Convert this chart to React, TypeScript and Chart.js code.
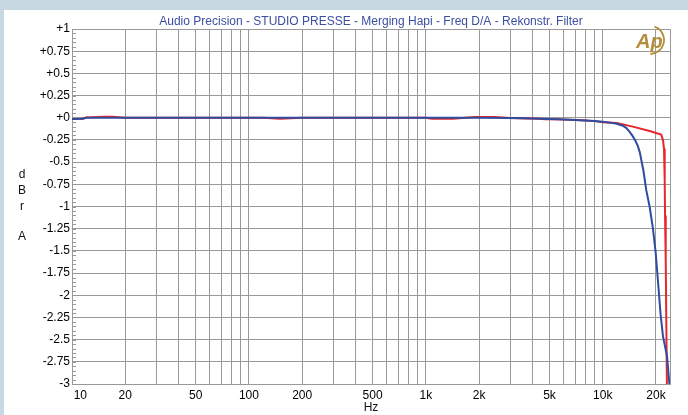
import React, { useEffect, useRef } from "react";
import { Chart, registerables } from "chart.js";

Chart.register(...registerables);

// Frequency response sweep, channel A (blue) and channel B (red)
const blueHz = [10, 11.5, 12, 20, 50, 100, 200, 500, 1000, 2000, 3000, 4000, 5000, 6000, 7000, 8000, 9000, 10000, 11000, 12000, 13000, 13600, 14200, 14800, 15300, 15800, 16200, 16500, 17000, 17600, 18400, 19200, 19900, 20500, 21200, 21900, 23100, 23700, 24200];
const blueDb = [-0.015, -0.012, 0, 0, 0, 0, 0, 0, 0, 0, -0.003, -0.008, -0.015, -0.02, -0.025, -0.03, -0.037, -0.045, -0.055, -0.068, -0.09, -0.116, -0.16, -0.21, -0.26, -0.32, -0.39, -0.47, -0.6, -0.81, -1.0, -1.24, -1.51, -1.83, -2.2, -2.46, -2.69, -2.95, -3.2];

const redHz = [10, 11.5, 12, 15.3, 17, 20, 120, 150, 200, 1000, 1080, 1420, 1900, 2450, 3000, 4400, 4700, 5000, 6000, 7000, 8000, 9000, 10000, 12000, 14800, 18400, 21400, 21900, 22200, 22400, 22500, 22700, 22900, 23100];
const redDb = [-0.015, -0.012, 0.002, 0.01, 0.01, 0, 0, -0.01, 0, 0, -0.01, -0.01, 0.008, 0.008, -0.003, -0.01, -0.018, -0.015, -0.02, -0.025, -0.03, -0.038, -0.05, -0.06, -0.1, -0.15, -0.19, -0.25, -0.35, -0.7, -1.1, -1.6, -2.4, -3.2];

// Log grid positions and which of them carry a label
const gridHz = [10, 20, 30, 40, 50, 60, 70, 80, 90, 100, 200, 300, 400, 500, 600, 700, 800, 900, 1000, 2000, 3000, 4000, 5000, 6000, 7000, 8000, 9000, 10000, 20000];
const labelledHz = [10, 20, 50, 100, 200, 500, 1000, 2000, 5000, 10000, 20000];

const titleText = "Audio Precision - STUDIO PRESSE - Merging Hapi - Freq D/A - Rekonstr. Filter";
const yTitleLetters = ["d", "B", "r", "A"];

const FONT = '"Liberation Sans", Arial, sans-serif';

function fmtHz(v: number): string {
  if (v === 10) return "     10";
  return v >= 1000 ? `${v / 1000}k` : String(v);
}

function fmtDb(v: number): string {
  const r = Math.round(v * 100) / 100;
  return r >= 0 ? `+${r}` : String(r);
}

const decorations = {
  id: "apDecorations",
  beforeDraw(chart: any) {
    const { ctx, width, height } = chart;
    ctx.save();
    ctx.fillStyle = "#c8d8e2";
    ctx.fillRect(0, 0, width, height);
    ctx.fillStyle = "#ffffff";
    ctx.fillRect(4, 10, width - 4, height - 10);
    ctx.restore();
  },
  beforeDatasetsDraw(chart: any) {
    const { ctx, chartArea, scales } = chart;
    const y = scales.y;
    ctx.save();
    ctx.strokeStyle = "#999999";
    ctx.lineWidth = 1;
    // minor ticks along the left edge
    for (let i = 0; i <= 80; i++) {
      const v = -3 + i * 0.05;
      const py = Math.round(y.getPixelForValue(v)) + 0.5;
      ctx.beginPath();
      ctx.moveTo(chartArea.left, py);
      ctx.lineTo(chartArea.left + 4, py);
      ctx.stroke();
    }
    // plot frame
    ctx.strokeRect(
      Math.round(chartArea.left) + 0.5,
      Math.round(chartArea.top) + 0.5,
      Math.round(chartArea.right - chartArea.left),
      Math.round(chartArea.bottom - chartArea.top)
    );
    ctx.restore();
  },
  afterDraw(chart: any) {
    const { ctx, chartArea } = chart;
    const cx = (chartArea.left + chartArea.right) / 2;
    ctx.save();
    // title
    ctx.font = `12px ${FONT}`;
    ctx.fillStyle = "#3b4fa0";
    ctx.textAlign = "center";
    ctx.textBaseline = "middle";
    ctx.fillText(titleText, cx, 22);
    // axis titles
    ctx.fillStyle = "#111111";
    ctx.fillText("Hz", cx, 408);
    const ys = [175, 191, 207, 237];
    yTitleLetters.forEach((c, i) => ctx.fillText(c, 22, ys[i]));
    // logo
    ctx.fillStyle = "#b38e3c";
    ctx.strokeStyle = "#b38e3c";
    ctx.font = `italic bold 20px ${FONT}`;
    ctx.textAlign = "left";
    ctx.textBaseline = "alphabetic";
    ctx.fillText("Ap", 636, 48);
    ctx.lineWidth = 1.8;
    ctx.beginPath();
    ctx.arc(650, 40, 14, -1.25, 1.55);
    ctx.stroke();
    ctx.restore();
  },
};

export default function App() {
  const canvasRef = useRef<HTMLCanvasElement | null>(null);

  useEffect(() => {
    const canvas = canvasRef.current;
    if (!canvas) return;
    const chart = new Chart(canvas, {
      type: "line",
      data: {
        datasets: [
          {
            label: "A",
            data: blueHz.map((f, i) => ({ x: f, y: blueDb[i] })),
            borderColor: "#2f4da0",
            borderWidth: 2,
            pointRadius: 0,
            tension: 0,
          },
          {
            label: "B",
            data: redHz.map((f, i) => ({ x: f, y: redDb[i] })),
            borderColor: "#e8262b",
            borderWidth: 2,
            pointRadius: 0,
            tension: 0,
          },
        ],
      },
      options: {
        animation: false,
        responsive: false,
        devicePixelRatio: 1,
        layout: { padding: { left: 0, top: 29, right: 18, bottom: 0 } },
        plugins: {
          legend: { display: false },
          tooltip: { enabled: false },
          title: { display: false },
        },
        scales: {
          x: {
            type: "logarithmic",
            min: 10,
            max: 24000,
            afterBuildTicks: (scale: any) => {
              scale.ticks = gridHz.map((v) => ({ value: v }));
            },
            afterFit: (scale: any) => {
              scale.height = 31;
            },
            grid: { color: "#999999", lineWidth: 1, drawTicks: false },
            border: { display: true, color: "#999999" },
            ticks: {
              autoSkip: false,
              maxRotation: 0,
              minRotation: 0,
              padding: 4,
              color: "#000000",
              font: { family: FONT, size: 12 },
              callback: (v: any) => (labelledHz.includes(Number(v)) ? fmtHz(Number(v)) : ""),
            },
          },
          y: {
            type: "linear",
            min: -3,
            max: 1,
            afterFit: (scale: any) => {
              scale.width = 72;
            },
            grid: { color: "#999999", lineWidth: 1, drawTicks: false },
            border: { display: true, color: "#999999" },
            ticks: {
              stepSize: 0.25,
              padding: 2,
              color: "#000000",
              font: { family: FONT, size: 12 },
              callback: (v: any) => fmtDb(Number(v)),
            },
          },
        },
      },
      plugins: [decorations],
    });
    return () => chart.destroy();
  }, []);

  return (
    <div style={{ position: "fixed", left: 0, top: 0, width: 688, height: 415 }}>
      <canvas ref={canvasRef} width={688} height={415} />
    </div>
  );
}
